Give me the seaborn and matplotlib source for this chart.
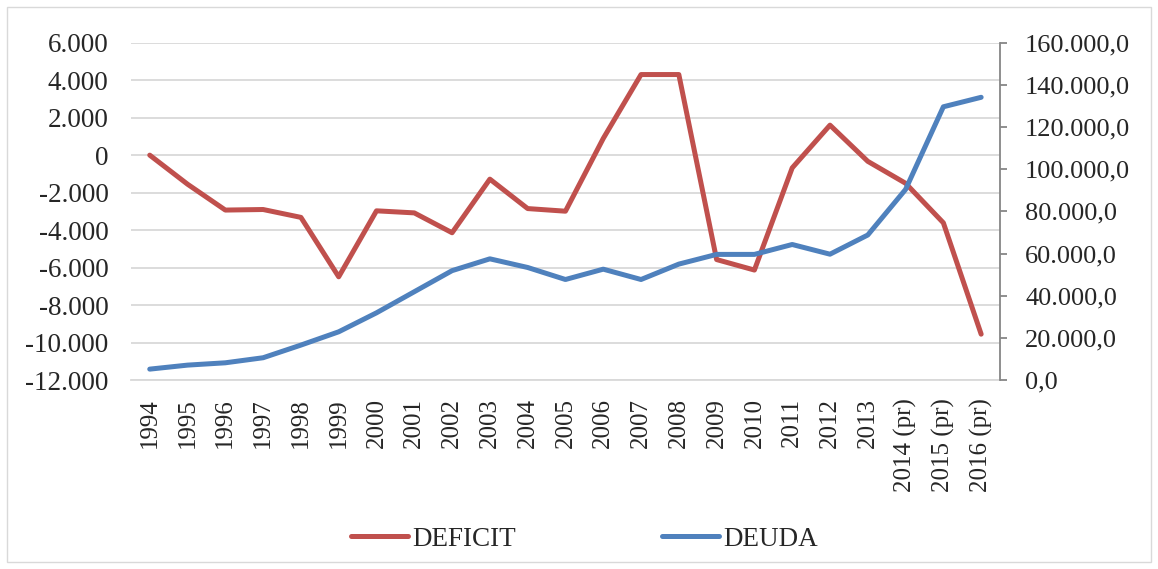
import numpy as np
import pandas as pd
import matplotlib
matplotlib.use("Agg")
import matplotlib.pyplot as plt
import seaborn as sns
from matplotlib.ticker import FuncFormatter, FixedLocator
from matplotlib.lines import Line2D
from matplotlib.patches import Rectangle

# data
years = ['1994', '1995', '1996', '1997', '1998', '1999', '2000', '2001', '2002',
         '2003', '2004', '2005', '2006', '2007', '2008', '2009', '2010', '2011',
         '2012', '2013', '2014 (pr)', '2015 (pr)', '2016 (pr)']
deficit = [0, -1550, -2930, -2900, -3320, -6490, -2970, -3080, -4140,
           -1280, -2850, -2990, 890, 4300, 4300, -5570, -6130, -680,
           1600, -330, -1500, -3610, -9550]
deuda = [5200, 7100, 8200, 10600, 16600, 22900, 31900, 41900, 51900,
         57500, 53400, 47700, 52600, 47700, 55000, 59600, 59600, 64300,
         59700, 68800, 90400, 129600, 134100]

df = pd.DataFrame({'year': years, 'DEFICIT': deficit, 'DEUDA': deuda})
df['pos'] = np.arange(len(df))

red = '#C0504D'
blue = '#4F81BD'

sns.set_style('white')
plt.rcParams['font.family'] = ['Liberation Serif', 'DejaVu Serif']

fig, ax = plt.subplots(figsize=(11.58, 5.69), dpi=100)
fig.subplots_adjust(left=0.113, right=0.8636, top=0.925, bottom=0.332)
ax2 = ax.twinx()

sns.lineplot(data=df, x='pos', y='DEFICIT', ax=ax, color=red, linewidth=3.6,
             legend=False)
sns.lineplot(data=df, x='pos', y='DEUDA', ax=ax2, color=blue, linewidth=3.6,
             legend=False)

ax.set_xlim(-0.5, len(df) - 0.5)
ax.set_ylim(-12000, 6000)
ax2.set_ylim(0, 160000)
ax.yaxis.set_major_locator(FixedLocator(np.arange(-12000, 6001, 2000)))
ax2.yaxis.set_major_locator(FixedLocator(np.arange(0, 160001, 20000)))

ax.set_xticks(df['pos'])
ax.set_xticklabels(years, rotation=90, fontsize=18)
ax.yaxis.set_major_formatter(FuncFormatter(
    lambda v, p: f"{int(v):,}".replace(',', '.')))
ax2.yaxis.set_major_formatter(FuncFormatter(
    lambda v, p: f"{int(v):,}".replace(',', '.') + ',0'))

ax.grid(axis='y', color='#D9D9D9', linewidth=1.3)
ax.set_axisbelow(True)
ax.set_xlabel('')
ax.set_ylabel('')
ax2.set_ylabel('')

for a in (ax, ax2):
    for s in a.spines.values():
        s.set_visible(False)
ax.spines['bottom'].set_visible(True)
ax.spines['bottom'].set_color('#D9D9D9')
ax.spines['bottom'].set_linewidth(1.3)
ax2.spines['right'].set_visible(True)
ax2.spines['right'].set_color('#868686')
ax2.spines['right'].set_linewidth(1.3)

ax.tick_params(axis='y', length=0, pad=16, labelsize=19.5)
ax.tick_params(axis='x', length=0, pad=13)
ax2.tick_params(axis='y', length=5, width=1.3, color='#868686', pad=13,
                labelsize=19)

handles = [Line2D([], [], color=red, linewidth=3.6),
           Line2D([], [], color=blue, linewidth=3.6)]
fig.legend(handles, ['DEFICIT', 'DEUDA'], loc='center', ncol=2,
           bbox_to_anchor=(0.505, 0.052), frameon=False, fontsize=19.5,
           handlelength=2.1, handletextpad=0.15, columnspacing=5.4)

fig.patches.append(Rectangle((0.006, 0.012), 0.988, 0.976, transform=fig.transFigure,
                             fill=False, edgecolor='#D9D9D9', linewidth=1))

fig.savefig('out.png', dpi=100)
